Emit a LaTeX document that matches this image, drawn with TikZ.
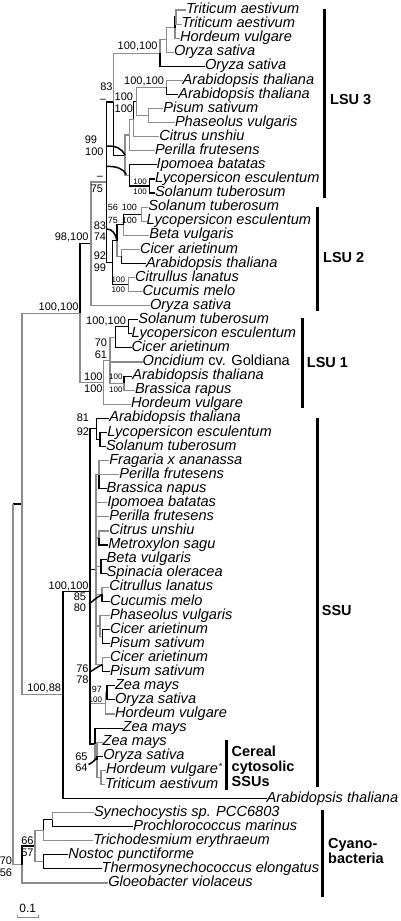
\documentclass[tikz,border=0pt]{standalone}
\usepackage{fontspec}
\setmainfont{Liberation Sans}
\begin{document}
\tikzset{
  lf/.style={anchor=west, inner sep=0pt, outer sep=0pt, font=\fontsize{14.6}{15}\selectfont\itshape, text height=10.4pt, text depth=3.1pt},
  bsl/.style={anchor=east, inner sep=0pt, outer sep=0pt, font=\fontsize{11}{12}\selectfont, text height=7.9pt, text depth=0pt},
  bsm/.style={bsl, font=\fontsize{9}{10}\selectfont, text height=6.5pt},
  bst/.style={bsl, font=\fontsize{8}{9}\selectfont, text height=5.8pt},
  cl/.style={anchor=west, inner sep=0pt, font=\fontsize{14.5}{15}\selectfont\bfseries, align=left},
  kb/.style={draw=black, line width=1.1pt},
  gb/.style={draw=black!45, line width=1.1pt},
  arcl/.style={draw=black, line width=1.5pt},
  cladebar/.style={draw=black, line width=3pt},
}
\begin{tikzpicture}[x=1pt,y=-1pt]
\useasboundingbox (0,0) rectangle (400,921);
% ---------- leaves ----------
\node[lf] (t1) at (186,10) {Triticum aestivum};
\node[lf] (t2) at (181.7,24.08) {Triticum aestivum};
\node[lf] (t3) at (180,38.16) {Hordeum vulgare};
\node[lf] (t4) at (174,52.24) {Oryza sativa};
\node[lf] (t5) at (205,66.32) {Oryza sativa};
\node[lf] (t6) at (182.7,80.40) {Arabidopsis thaliana};
\node[lf] (t7) at (178.3,94.48) {Arabidopsis thaliana};
\node[lf] (t8) at (163.3,108.56) {Pisum sativum};
\node[lf] (t9) at (175,122.64) {Phaseolus vulgaris};
\node[lf] (t10) at (159.3,136.72) {Citrus unshiu};
\node[lf] (t11) at (155,150.80) {Perilla frutesens};
\node[lf] (t12) at (156.7,164.88) {Ipomoea batatas};
\node[lf] (t13) at (155,178.96) {Lycopersicon esculentum};
\node[lf] (t14) at (155,193.04) {Solanum tuberosum};
\node[lf] (t15) at (148.3,207.12) {Solanum tuberosum};
\node[lf] (t16) at (146.7,221.20) {Lycopersicon esculentum};
\node[lf] (t17) at (149.3,235.28) {Beta vulgaris};
\node[lf] (t18) at (140,249.36) {Cicer arietinum};
\node[lf] (t19) at (146,263.44) {Arabidopsis thaliana};
\node[lf] (t20) at (135,277.52) {Citrullus lanatus};
\node[lf] (t21) at (142.7,291.60) {Cucumis melo};
\node[lf] (t22) at (150,305.68) {Oryza sativa};
\node[lf] (t23) at (138.3,319.76) {Solanum tuberosum};
\node[lf] (t24) at (131.7,333.84) {Lycopersicon esculentum};
\node[lf] (t25) at (131.7,347.92) {Cicer arietinum};
\node[lf] (t26) at (142.7,362.00) {Oncidium {\upshape cv. Goldiana}};
\node[lf] (t27) at (132.3,376.08) {Arabidopsis thaliana};
\node[lf] (t28) at (135,390.16) {Brassica rapus};
\node[lf] (t29) at (131,404.24) {Hordeum vulgare};
\node[lf] (t30) at (109.3,418.32) {Arabidopsis thaliana};
\node[lf] (t31) at (107.3,432.40) {Lycopersicon esculentum};
\node[lf] (t32) at (106,446.48) {Solanum tuberosum};
\node[lf] (t33) at (109.3,460.56) {Fragaria x ananassa};
\node[lf] (t34) at (119.3,474.64) {Perilla frutesens};
\node[lf] (t35) at (106.7,488.72) {Brassica napus};
\node[lf] (t36) at (107.3,502.80) {Ipomoea batatas};
\node[lf] (t37) at (109.3,516.88) {Perilla frutesens};
\node[lf] (t38) at (109.3,530.96) {Citrus unshiu};
\node[lf] (t39) at (108.3,545.04) {Metroxylon sagu};
\node[lf] (t40) at (106.7,559.12) {Beta vulgaris};
\node[lf] (t41) at (106.7,573.20) {Spinacia oleracea};
\node[lf] (t42) at (109.3,587.28) {Citrullus lanatus};
\node[lf] (t43) at (110,601.36) {Cucumis melo};
\node[lf] (t44) at (110,615.44) {Phaseolus vulgaris};
\node[lf] (t45) at (110,629.52) {Cicer arietinum};
\node[lf] (t46) at (110,643.60) {Pisum sativum};
\node[lf] (t47) at (110,657.68) {Cicer arietinum};
\node[lf] (t48) at (110,671.76) {Pisum sativum};
\node[lf] (t49) at (115,685.84) {Zea mays};
\node[lf] (t50) at (115,699.92) {Oryza sativa};
\node[lf] (t51) at (115,714.00) {Hordeum vulgare};
\node[lf] (t52) at (122.7,728.08) {Zea mays};
\node[lf] (t53) at (102.7,742.16) {Zea mays};
\node[lf] (t54) at (103.3,756.24) {Oryza sativa};
\node[lf] (t55) at (106,770.32) {Hordeum vulgare};
\node[anchor=west, inner sep=0pt, font=\fontsize{9}{10}\selectfont] (ast) at ([xshift=0.6pt,yshift=3.5pt]t55.east) {*};
\node[lf] (t56) at (105,784.40) {Triticum aestivum};
\node[lf] (t57) at (266.7,798.48) {Arabidopsis thaliana};
\node[lf] (t58) at (94,812.56) {Synechocystis sp. PCC6803};
\node[lf] (t59) at (133.3,826.64) {Prochlorococcus marinus};
\node[lf] (t60) at (93.3,840.72) {Trichodesmium erythraeum};
\node[lf] (t61) at (68.3,854.80) {Nostoc punctiforme};
\node[lf] (t62) at (101.7,868.88) {Thermosynechococcus elongatus};
\node[lf] (t63) at (108.3,882.96) {Gloeobacter violaceus};
% ---------- internal nodes ----------
\coordinate (root) at (13,504);
\coordinate (P0) at (22,504);
\coordinate (L0) at (80,313.1);
\coordinate (L23) at (91,243.9);
\coordinate (L3n) at (106.7,182);
\coordinate (L3a) at (113.3,102);
\coordinate (M3) at (160,53.1);
\coordinate (M2) at (166.7,39.9);
\coordinate (M1) at (175,27.6);
\coordinate (n12) at (176,17.04);
\coordinate (D) at (125,155.2);
\coordinate (ACP) at (129.3,135);
\coordinate (ACit) at (133.5,119.1);
\coordinate (AAPP) at (136.7,101.5);
\coordinate (AA) at (166.7,87.44);
\coordinate (PP) at (148.3,115.6);
\coordinate (IPLS) at (129.3,175.4);
\coordinate (LS3) at (149.3,186);
\coordinate (L2) at (112.7,262.6);
\coordinate (SLBCA) at (117,240.6);
\coordinate (SLB) at (123.3,224.7);
\coordinate (SL2) at (141.7,214.16);
\coordinate (CA) at (121.7,256.4);
\coordinate (CC) at (128.3,284.56);
\coordinate (L1) at (103.3,382.3);
\coordinate (L1a) at (110,360.3);
\coordinate (SLC) at (115.7,337.4);
\coordinate (SL1) at (128.3,326.8);
\coordinate (L1c) at (124,383.12);
\coordinate (S0) at (63,694.9);
\coordinate (S1) at (90,591.5);
\coordinate (SA) at (96.7,428.9);
\coordinate (LSs) at (100,439.44);
\coordinate (SB) at (96,569.7);
\coordinate (FPB) at (99,474.64);
\coordinate (CM) at (99,538);
\coordinate (BS) at (101,566.16);
\coordinate (CC2) at (102,594.32);
\coordinate (PCP) at (100,626);
\coordinate (CP) at (102.5,636.56);
\coordinate (CP2) at (102.5,664.72);
\coordinate (G1) at (105.3,703.4);
\coordinate (G0) at (107,692.88);
\coordinate (S2) at (95,744);
\coordinate (Cc) at (97,759.8);
\coordinate (HT) at (101,777.36);
\coordinate (C0) at (22,864.5);
\coordinate (C1) at (35,846);
\coordinate (C2) at (43.3,830.2);
\coordinate (C3) at (43.3,861.84);
\coordinate (C4) at (52.7,819.6);
% ---------- branches ----------
% root
\draw[kb] (root) |- (P0);
\draw[gb] (root) |- (C0);
\draw[gb] (P0) |- (L0);
\draw[gb] (P0) |- (S0);
% LSU
\draw[kb] (L0) |- (L23);
\draw[gb] (L0) |- (L1);
\draw[gb] (L23) |- (L3n);
\draw[gb] (L23) |- (t22.west);
\draw[kb] (L3n) |- (L3a);
\draw[kb] (L3n) |- (L2);
% LSU3
\draw[gb] (L3a) |- (M3);
\draw[kb] (L3a) |- (D);
\draw[gb] (M3) |- (M2);
\draw[kb] (M3) |- (t5.west);
\draw[gb] (M2) |- (M1);
\draw[gb] (M2) |- (t4.west);
\draw[kb] (M1) |- (n12);
\draw[gb] (M1) |- (t3.west);
\draw[gb] (n12) |- (t1.west);
\draw[gb] (n12) |- (t2.west);
\draw[gb] (D) |- (ACP);
\draw[gb] (D) |- (IPLS);
\draw[gb] (ACP) |- (ACit);
\draw[gb] (ACP) |- (t11.west);
\draw[kb] (ACit) |- (AAPP);
\draw[gb] (ACit) |- (t10.west);
\draw[gb] (AAPP) |- (AA);
\draw[gb] (AAPP) |- (PP);
\draw[gb] (AA) |- (t6.west);
\draw[kb] (AA) |- (t7.west);
\draw[gb] (PP) |- (t8.west);
\draw[gb] (PP) |- (t9.west);
\draw[kb] (IPLS) |- (t12.west);
\draw[kb] (IPLS) |- (LS3);
\draw[kb] (LS3) |- (t13.west);
\draw[kb] (LS3) |- (t14.west);
% LSU2
\draw[kb] (L2) |- (SLBCA);
\draw[kb] (L2) |- (CC);
\draw[kb] (SLBCA) |- (SLB);
\draw[gb] (SLBCA) |- (CA);
\draw[kb] (SLB) |- (SL2);
\draw[gb] (SLB) |- (t17.west);
\draw[gb] (SL2) |- (t15.west);
\draw[gb] (SL2) |- (t16.west);
\draw[gb] (CA) |- (t18.west);
\draw[kb] (CA) |- (t19.west);
\draw[gb] (CC) |- (t20.west);
\draw[gb] (CC) |- (t21.west);
% LSU1
\draw[gb] (L1) |- (L1a);
\draw[gb] (L1) |- (t29.west);
\draw[gb, line width=1.7pt] (L1a) |- (SLC);
\draw[gb] (L1a) |- (t26.west);
\draw[gb] (L1a) |- (L1c);
\draw[kb] (SLC) |- (SL1);
\draw[kb] (SLC) |- (t25.west);
\draw[kb] (SL1) |- (t23.west);
\draw[kb] (SL1) |- (t24.west);
\draw[kb] (L1c) |- (t27.west);
\draw[gb] (L1c) |- (t28.west);
% SSU
\draw[kb] (S0) |- (S1);
\draw[kb] (S0) |- (t57.west);
\draw[kb] (S1) |- (SA);
\draw[kb] (S1) |- (SB);
\draw[gb] (S1) |- (G1);
\draw[kb] (S1) |- (S2);
\draw[kb] (SA) |- (t30.west);
\draw[kb] (SA) |- (LSs);
\draw[kb] (LSs) |- (t31.west);
\draw[kb] (LSs) |- (t32.west);
\draw[gb] (SB) |- (FPB);
\draw[gb] (SB) |- (t36.west);
\draw[gb] (SB) |- (t37.west);
\draw[gb] (SB) |- (CM);
\draw[gb] (SB) |- (BS);
\draw[gb] (SB) |- (CC2);
\draw[gb] (SB) |- (PCP);
\draw[gb] (SB) |- (CP2);
\draw[gb] (FPB) |- (t33.west);
\draw[gb] (FPB) |- (t34.west);
\draw[kb] (FPB) |- (t35.west);
\draw[gb] (CM) |- (t38.west);
\draw[kb] (CM) |- (t39.west);
\draw[kb] (BS) |- (t40.west);
\draw[kb] (BS) |- (t41.west);
\draw[gb] (CC2) |- (t42.west);
\draw[kb] (CC2) |- (t43.west);
\draw[gb] (PCP) |- (t44.west);
\draw[gb] (PCP) |- (CP);
\draw[kb] (CP) |- (t45.west);
\draw[kb] (CP) |- (t46.west);
\draw[gb] (CP2) |- (t47.west);
\draw[kb] (CP2) |- (t48.west);
\draw[gb] (G1) |- (G0);
\draw[gb] (G1) |- (t51.west);
\draw[kb] (G0) |- (t49.west);
\draw[kb] (G0) |- (t50.west);
\draw[kb] (S2) |- (t52.west);
\draw[gb] (S2) |- (Cc);
\draw[gb] (Cc) |- (t53.west);
\draw[kb] (Cc) |- (t54.west);
\draw[gb] (Cc) |- (HT);
\draw[gb] (HT) |- (t55.west);
\draw[gb] (HT) |- (t56.west);
% Cyanobacteria
\draw[kb] (C0) |- (C1);
\draw[gb] (C0) |- (t63.west);
\draw[gb] (C1) |- (C2);
\draw[gb] (C1) |- (C3);
\draw[kb] (C2) |- (C4);
\draw[gb] (C2) |- (t60.west);
\draw[gb] (C4) |- (t58.west);
\draw[kb] (C4) |- (t59.west);
\draw[kb] (C3) |- (t61.west);
\draw[kb] (C3) |- (t62.west);
% ---------- arcs ----------
\coordinate (a1) at (106.7,146);
\coordinate (a2) at (106.7,166.5);
\coordinate (a3) at (107,229);
\coordinate (a4) at (89,604);
\coordinate (a5) at (89.5,672);
\coordinate (a6) at (88.5,764.5);
\draw[arcl] (a1) .. controls (116,145.5) and (122.5,149) .. (D);
\draw[arcl] (a2) .. controls (116,166) and (123,168.5) .. (126.5,174.5);
\draw[arcl] (a3) .. controls (112,229) and (116,234) .. (SLBCA);
\draw[arcl] (a4) .. controls (93,601) and (97,597) .. (101.5,595);
\draw[arcl] (a5) .. controls (94,670) and (98,666) .. (CP2);
\draw[arcl] (a6) .. controls (92,763) and (95,760) .. (97,757.5);
% ---------- support values ----------
\node[bsl] (b1) at (157.5,46) {100,100};
\node[bsl] (b2) at (164,80.5) {100,100};
\node[bsl] (b3) at (112.5,87) {83};
\node[bsl] (b4) at (106,98.5) {–};
\node[bsl] (b5) at (133,97) {100};
\node[bsl] (b6) at (133,108.5) {100};
\node[bsl] (b7) at (97,140) {99};
\node[bsl] (b8) at (103.5,151.5) {100};
\node[bst] (b9) at (146.7,181.5) {100};
\node[bst] (b10) at (146.7,191.5) {100};
\node[bsl] (b11) at (103,176) {–};
\node[bsl] (b12) at (103,188.5) {75};
\node[bsm] (b13) at (118,207.5) {56};
\node[bsm] (b14) at (118,220.5) {75};
\node[bsm] (b15) at (137,207.5) {100};
\node[bsm] (b16) at (137,220.5) {100};
\node[bsl] (b17) at (106,226) {83};
\node[bsl] (b18) at (106,237) {74};
\node[bsl] (b19) at (106,256) {92};
\node[bsl] (b20) at (106,267.5) {99};
\node[bst] (b21) at (125,279.5) {100};
\node[bst] (b22) at (125,290) {100};
\node[bsl] (b23) at (88.5,237) {98,100};
\node[bsl] (b24) at (78.5,307) {100,100};
\node[bsl] (b25) at (126,320.5) {100,100};
\node[bsl] (b26) at (107,343) {70};
\node[bsl] (b27) at (107,354.5) {61};
\node[bst] (b28) at (122.5,376.5) {100};
\node[bst] (b29) at (122.5,389.5) {100};
\node[bsl] (b30) at (102.5,377) {100};
\node[bsl] (b31) at (102.5,388.5) {100};
\node[bsl] (b32) at (89,418) {81};
\node[bsl] (b33) at (89,432) {92};
\node[bsl] (b34) at (88.5,585.5) {100,100};
\node[bsl] (b35) at (86,597) {85};
\node[bsl] (b36) at (86,607.5) {80};
\node[bsl] (b37) at (88.5,669) {76};
\node[bsl] (b38) at (88.5,679.5) {78};
\node[bsm] (b39) at (102,689.5) {97};
\node[bst] (b40) at (102,699.5) {100};
\node[bsl] (b41) at (87.5,757) {65};
\node[bsl] (b42) at (87.5,767.5) {64};
\node[bsl] (b43) at (61,688) {100,88};
\node[bsl] (b44) at (33.5,841) {66};
\node[bsl] (b45) at (33.5,852.5) {57};
\node[bsl] (b46) at (12,861) {70};
\node[bsl] (b47) at (12,872.5) {56};
% ---------- clade bars ----------
\draw[cladebar] (324,9.3) -- (324,198.3);
\node[cl] (g1) at (330,99.3) {LSU 3};
\draw[cladebar] (317.3,207.3) -- (317.3,310.7);
\node[cl] (g2) at (323,258) {LSU 2};
\draw[cladebar] (302,318.3) -- (302,408.3);
\node[cl] (g3) at (306.7,363) {LSU 1};
\draw[cladebar] (317.3,418.3) -- (317.3,786.7);
\node[cl] (g4) at (321.7,610) {SSU};
\draw[cladebar] (226.7,740) -- (226.7,790);
\node[cl] (g5) at (231.5,766.7) {Cereal\\cytosolic\\SSUs};
\draw[cladebar] (322.7,810) -- (322.7,896.7);
\node[cl] (g6) at (328,850.5) {Cyano-\\bacteria};
% ---------- scale bar ----------
\coordinate (sb1) at (17.3,917.5);
\coordinate (sb2) at (38.3,917.5);
\draw[gb] (sb1) -- (sb2);
\draw[gb] (sb1) -- ++(0,-3);
\draw[gb] (sb2) -- ++(0,-3);
\node[inner sep=0pt, font=\fontsize{12}{13}\selectfont] (sbl) at (27.8,908) {0.1};
\end{tikzpicture}
\end{document}
